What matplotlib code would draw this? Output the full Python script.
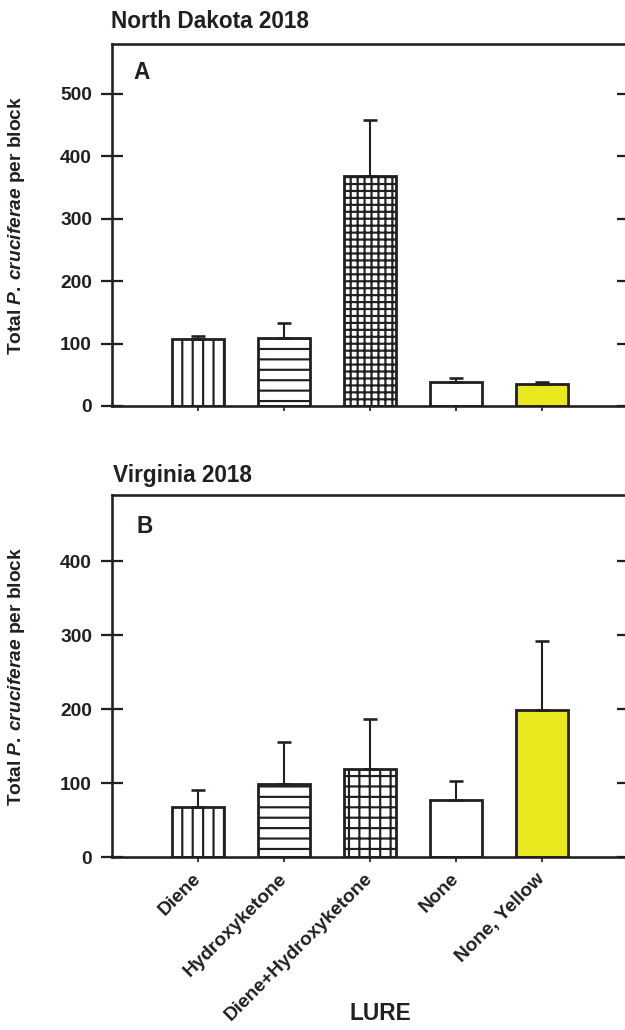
import numpy as np
import matplotlib
matplotlib.use("Agg")
import matplotlib.pyplot as plt

plt.rcParams["font.family"] = ["Liberation Sans", "DejaVu Sans"]
plt.rcParams["font.weight"] = "bold"
plt.rcParams["mathtext.fontset"] = "custom"
plt.rcParams["mathtext.it"] = "Liberation Sans:italic:bold"
plt.rcParams["mathtext.rm"] = "Liberation Sans:bold"
plt.rcParams["hatch.linewidth"] = 1.25

lures = ["Diene", "Hydroxyketone", "Diene+Hydroxyketone", "None", "None, Yellow"]

# North Dakota 2018 totals and upper error
nd_mean = [107, 109, 368, 39, 36]
nd_err = [5, 24, 91, 6, 3]

# Virginia 2018 totals and upper error
va_mean = [68, 99, 119, 77, 199]
va_err = [23, 57, 68, 26, 94]

fills = ["white", "white", "white", "white", "#E9E81F"]
hatch_a = ["||", "--", "+++", "", ""]
hatch_b = ["||", "--", "++", "", ""]

INK = "#231f20"
W, H = 625, 1030
DPI = 125
fig = plt.figure(figsize=(W / DPI, H / DPI), dpi=DPI)

ax_left = 112 / W
ax_w = (628 - 112) / W
ax_h = 362 / H
axA = fig.add_axes([ax_left, 1 - 406 / H, ax_w, ax_h])
axB = fig.add_axes([ax_left, 1 - 857 / H, ax_w, ax_h])

x = np.arange(1, len(lures) + 1)


def draw_panel(ax, means, errs, hatches, ymax, yticks):
    for i in range(len(x)):
        ax.bar(x[i], means[i], width=0.61, color=fills[i], edgecolor=INK,
               linewidth=1.6, hatch=hatches[i], zorder=2)
    ax.errorbar(x, means, yerr=[np.zeros(len(errs)), errs], fmt="none",
                ecolor=INK, elinewidth=1.2, capsize=3.8, capthick=1.5, zorder=3)
    ax.set_xlim(0, 6)
    ax.set_ylim(0, ymax)
    ax.set_yticks(yticks)
    ax.set_xticks(x)
    for s in ax.spines.values():
        s.set_linewidth(1.5)
        s.set_color(INK)
    ax.tick_params(axis="y", which="both", direction="inout", length=13, width=1.3,
                   labelsize=11, pad=5, left=True, right=True, colors=INK)
    ax.tick_params(axis="x", direction="out", length=3, width=1.0, colors=INK)
    ax.set_ylabel(r"Total $\mathit{P.}\,\mathit{cruciferae}$ per block", fontsize=11,
                  fontweight="bold", color=INK)
    ax.yaxis.set_label_coords(-(112 - 27) / 516, 0.5)


draw_panel(axA, nd_mean, nd_err, hatch_a, 580, [0, 100, 200, 300, 400, 500])
draw_panel(axB, va_mean, va_err, hatch_b, 490, [0, 100, 200, 300, 400])

axA.set_xticklabels([])
axB.set_xticklabels(lures, rotation=45, ha="right", va="center",
                    rotation_mode="anchor", fontsize=11)
axB.tick_params(axis="x", pad=8)

fig.text(111 / W, 1 - 28 / H, "North Dakota 2018", fontsize=13, fontweight="bold",
         color=INK, va="baseline")
fig.text(113 / W, 1 - 482 / H, "Virginia 2018", fontsize=13, fontweight="bold",
         color=INK, va="baseline")
fig.text(133 / W, 1 - 79 / H, "A", fontsize=13, fontweight="bold", color=INK,
         va="baseline")
fig.text(136 / W, 1 - 533 / H, "B", fontsize=13, fontweight="bold", color=INK,
         va="baseline")
fig.text(380 / W, 1 - 1020 / H, "LURE", fontsize=13, fontweight="bold", color=INK,
         va="baseline", ha="center")

fig.savefig("out.png", dpi=DPI)
